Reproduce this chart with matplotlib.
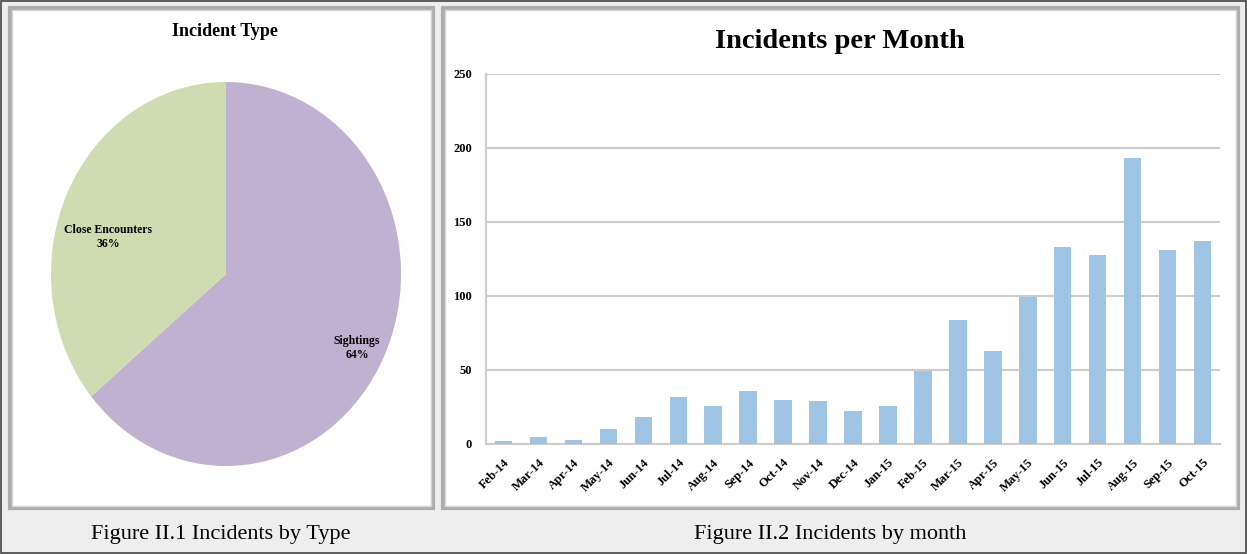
import matplotlib.pyplot as plt
import matplotlib.patches as patches
import numpy as np

## Data ##
pie_labels = ["Sightings", "Close Encounters"]
pie_shares = [64, 36]
pie_colors = ["#c0b1d1", "#cfdbb1"]

months = ["Feb-14", "Mar-14", "Apr-14", "May-14", "Jun-14", "Jul-14", "Aug-14",
          "Sep-14", "Oct-14", "Nov-14", "Dec-14", "Jan-15", "Feb-15", "Mar-15",
          "Apr-15", "May-15", "Jun-15", "Jul-15", "Aug-15", "Sep-15", "Oct-15"]
incidents = [2, 5, 3, 10, 18, 32, 26, 36, 30, 29, 22, 26, 49, 84,
             63, 99, 133, 128, 193, 131, 137]
yticks = [0, 50, 100, 150, 200, 250]

W, H = 1247, 554
fig = plt.figure(figsize=(W / 100, H / 100), dpi=100)
fig.patch.set_facecolor("#eeeeee")
serif = "Liberation Serif"


def box(x0, y0, x1, y1):
    # pixel coords (top-left origin) -> figure fraction
    return [x0 / W, 1 - y1 / H, (x1 - x0) / W, (y1 - y0) / H]


# outer frame
fig.patches.append(patches.Rectangle((0.0008, 0.002), 0.998, 0.996, transform=fig.transFigure,
                                     fill=False, edgecolor="#444444", linewidth=1.2, zorder=-5))

# white panels with grey frames (behind the axes)
for x0, x1 in [(10, 433), (443, 1238)]:
    l, b, w, h = box(x0, 8, x1, 508)
    fig.patches.append(patches.Rectangle((l, b), w, h, transform=fig.transFigure,
                                         facecolor="white", edgecolor="#adadad",
                                         linewidth=3, zorder=-5))
    fig.patches.append(patches.Rectangle((l + 0.002, b + 0.004), w - 0.004, h - 0.008,
                                         transform=fig.transFigure, fill=False,
                                         edgecolor="#d6d6d6", linewidth=1, zorder=-4))

## Pie ##
ax1 = fig.add_axes(box(51, 82, 401, 466))
ax1.patch.set_visible(False)
ax1.pie(pie_shares, colors=pie_colors, startangle=90, counterclock=False,
        wedgeprops=dict(linewidth=0))
ax1.set_aspect("auto")
ax1.set_xlim(-1, 1)
ax1.set_ylim(-1, 1)
ax1.axis("off")
fig.text(225 / W, 1 - 32 / H, "Incident Type", ha="center", va="center",
         fontsize=13, fontweight="bold", family=serif)
fig.text(108 / W, 1 - 237 / H, f"{pie_labels[1]}\n{pie_shares[1]}%", ha="center", va="center",
         fontsize=8.5, fontweight="bold", family=serif, linespacing=1.3)
fig.text(357 / W, 1 - 348 / H, f"{pie_labels[0]}\n{pie_shares[0]}%", ha="center", va="center",
         fontsize=8.5, fontweight="bold", family=serif, linespacing=1.3)

## Bars ##
ax2 = fig.add_axes(box(486, 74, 1220, 444))
ax2.patch.set_visible(False)
x = np.arange(len(months))
ax2.bar(x, incidents, width=0.5, color="#9fc4e4", zorder=3)
ax2.set_xlim(-0.5, len(months) - 0.5)
ax2.set_ylim(0, 250)
ax2.set_yticks(yticks)
ax2.set_yticklabels([str(t) for t in yticks], fontsize=9, fontweight="bold", family=serif)
ax2.set_xticks(x)
ax2.set_xticklabels(months, rotation=45, ha="right", rotation_mode="anchor",
                    fontsize=9, fontweight="bold", family=serif)
ax2.tick_params(length=0, pad=10)
ax2.tick_params(axis="x", pad=9)
ax2.grid(axis="y", color="#cccccc", linewidth=1.5, zorder=0)
for s in ["top", "right"]:
    ax2.spines[s].set_visible(False)
for s in ["left", "bottom"]:
    ax2.spines[s].set_color("#cccccc")
    ax2.spines[s].set_linewidth(1.5)
fig.text(840 / W, 1 - 42 / H, "Incidents per Month", ha="center", va="center",
         fontsize=20.5, fontweight="bold", family=serif)

## Captions ##
fig.text(221 / W, 1 - 534 / H, "Figure II.1 Incidents by Type", ha="center", va="center",
         fontsize=16, family=serif)
fig.text(830 / W, 1 - 534 / H, "Figure II.2 Incidents by month", ha="center", va="center",
         fontsize=16, family=serif)

fig.savefig("out.png", dpi=100, facecolor=fig.get_facecolor())
